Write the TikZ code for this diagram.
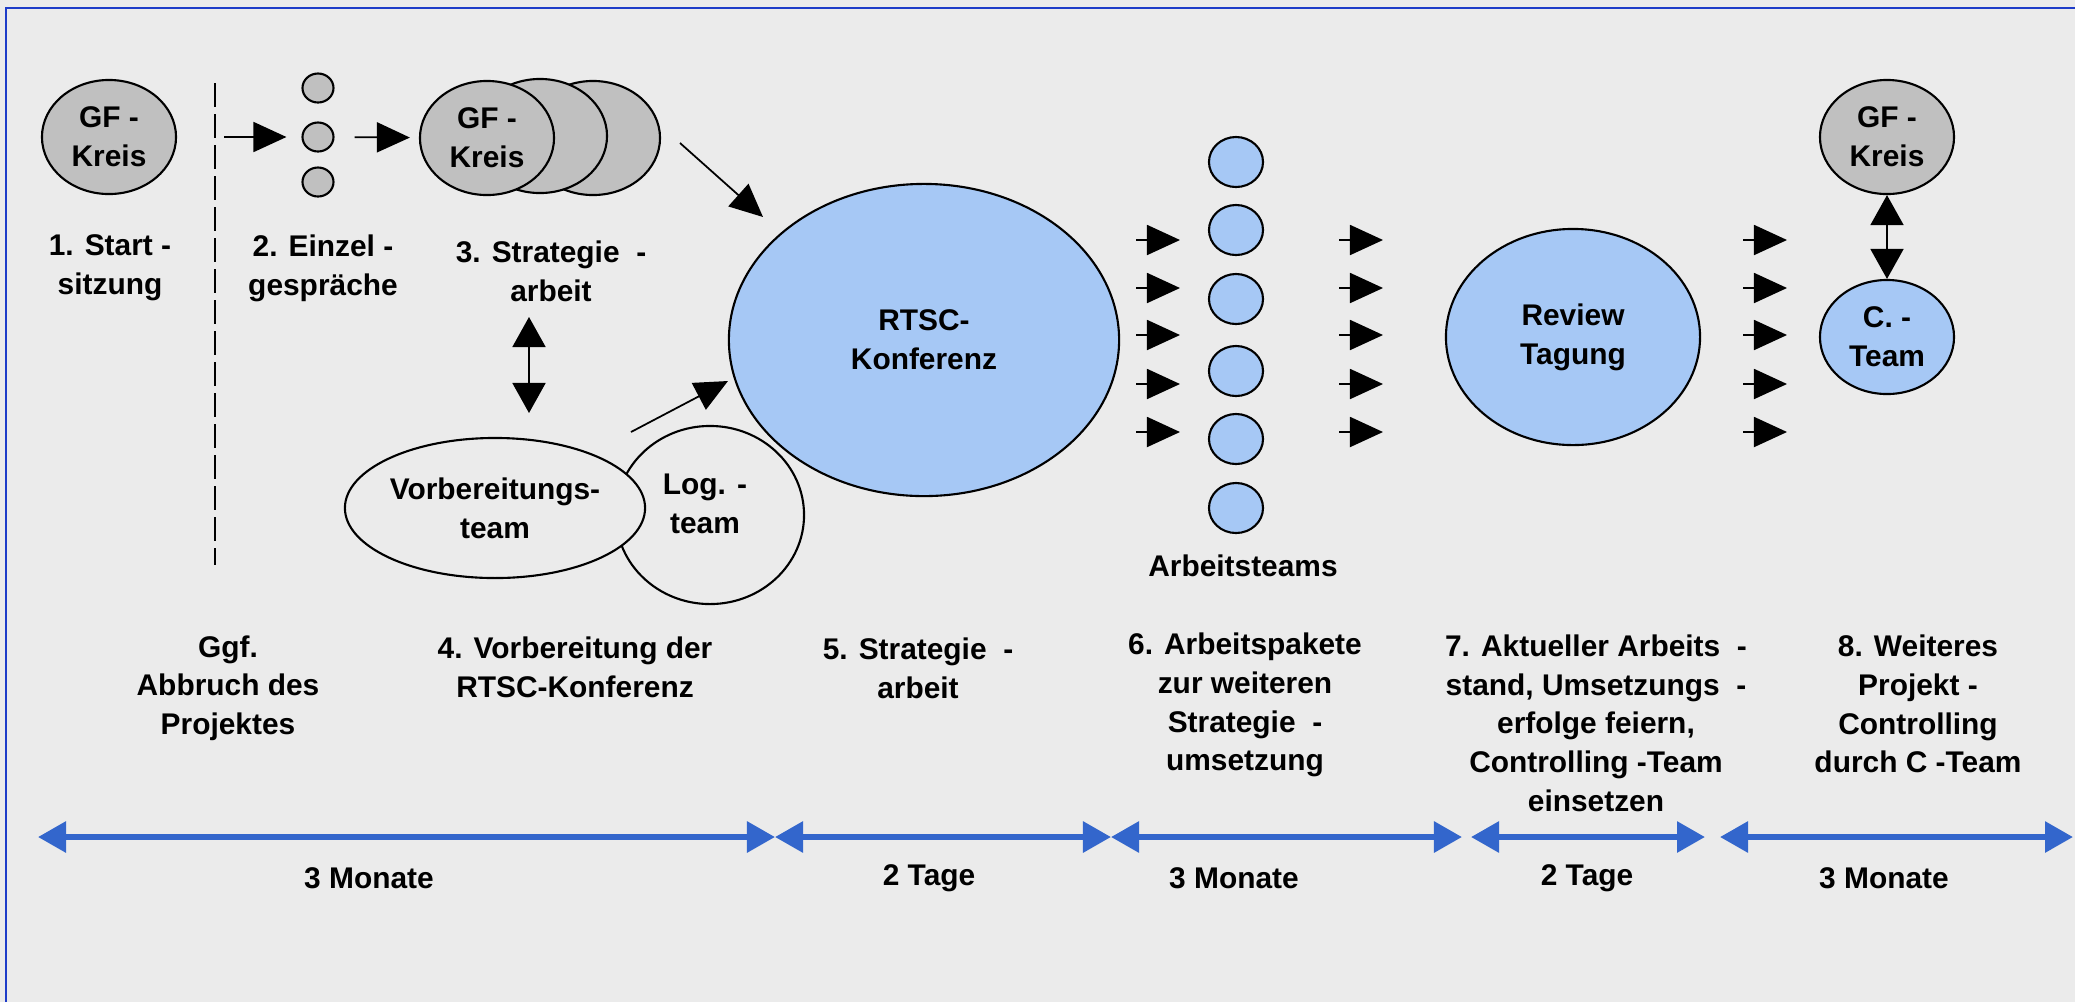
\documentclass[tikz,border=0pt]{standalone}
\usepackage{fontspec}
\setmainfont{Liberation Sans}
\usetikzlibrary{shapes.geometric,arrows.meta}
\definecolor{hintergrund}{HTML}{EBEBEB}
\definecolor{kreisgrau}{HTML}{C0C0C0}
\definecolor{teamblau}{HTML}{A6C8F5}
\definecolor{zeitblau}{HTML}{3366CC}
\definecolor{rahmenblau}{HTML}{1E3CC8}

\begin{document}
\begin{tikzpicture}[x=0.01cm,y=-0.01cm,
    every node/.style={font=\fontsize{8.5}{11}\selectfont\bfseries, align=center},
    kreis/.style={ellipse, draw, line width=0.6pt, inner sep=0pt},
    grau/.style={kreis, fill=kreisgrau},
    blau/.style={kreis, fill=teamblau},
    leer/.style={kreis, fill=hintergrund},
    pfeil/.style={-{Triangle[length=0.33cm,width=0.30cm]}, line width=0.5pt},
    doppelpfeil/.style={{Triangle[length=0.30cm,width=0.33cm]}-{Triangle[length=0.30cm,width=0.33cm]}, line width=0.5pt},
    zeit/.style={{Triangle[length=0.28cm,width=0.30cm]}-{Triangle[length=0.28cm,width=0.30cm]}, draw=zeitblau, line width=1.7pt}]
        \fill[hintergrund] (0,0) rectangle (2075,1002);
        \useasboundingbox (0,0) rectangle (2075,1002);
        \draw[rahmenblau, line width=0.8pt] (6,1002) -- (6,8) -- (2075,8);

        \node[grau, minimum width=1.34cm, minimum height=1.14cm] (gf1) at (109,137) {GF -\\Kreis};
        \coordinate (trennoben) at (215,83);
        \coordinate (trennunten) at (215,565);
        \draw[dash pattern=on 0.24cm off 0.07cm, line width=0.6pt] (trennoben) -- (trennunten);
        \foreach \y [count=\i] in {88,137,182}
            \node[grau, minimum width=0.31cm, minimum height=0.29cm] (dot\i) at (318,\y) {};
        \node[grau, minimum width=1.34cm, minimum height=1.14cm] (gf3c) at (593,138) {};
        \node[grau, minimum width=1.34cm, minimum height=1.14cm] (gf3b) at (540,136) {};
        \node[grau, minimum width=1.34cm, minimum height=1.14cm] (gf3a) at (487,138) {GF -\\Kreis};
        \draw[pfeil, shorten <=0.47cm, shorten >=0.15cm] (gf1) -- (dot2);
        \draw[pfeil, shorten <=0.20cm, shorten >=0.09cm] (dot2) -- (gf3a);

        \node (start) at (110,268) {1. Start -\\sitzung};
        \node (einzel) at (323,268) {2. Einzel -\\gespr\"ache};
        \node (strat) at (551,271) {3. Strategie ~-\\arbeit};

        \node[leer, minimum width=1.88cm, minimum height=1.78cm,
            label={[yshift=0.11cm, xshift=-0.05cm]center:Log. -\\team}] (log) at (710,515) {};
        \node[leer, minimum width=3.00cm, minimum height=1.40cm] (vorb) at (495,508) {Vorbereitungs-\\team};
        \coordinate (stratunten) at (529,317);
        \coordinate (vorboben) at (529,413);
        \draw[doppelpfeil] (stratunten) -- (vorboben);

        \node[blau, minimum width=3.90cm, minimum height=3.12cm] (rtsc) at (924,340) {RTSC-\\Konferenz};
        \coordinate (gfaus) at (680,143);
        \coordinate (rtscein) at (763,217);
        \draw[pfeil] (gfaus) -- (rtscein);
        \coordinate (logaus) at (631,432);
        \coordinate (rtscunten) at (728,381);
        \draw[pfeil] (logaus) -- (rtscunten);

        \foreach \y [count=\i] in {162,230,299,371,439,508}
            \node[blau, minimum width=0.54cm, minimum height=0.50cm] (team\i) at (1236,\y) {};
        \node (arbeitsteams) at (1243,566) {Arbeitsteams};

        \node[blau, minimum width=2.54cm, minimum height=2.16cm] (review) at (1573,337) {Review\\Tagung};
        \node[grau, minimum width=1.34cm, minimum height=1.14cm] (gf8) at (1887,137) {GF -\\Kreis};
        \node[blau, minimum width=1.34cm, minimum height=1.14cm] (cteam) at (1887,337) {C. -\\Team};
        \draw[doppelpfeil] (gf8.south) -- (cteam.north);

        \foreach \x in {1136,1339,1743}
            \foreach \y [count=\i] in {240,288,335,384,432} {
                \coordinate (a\x\i) at (\x,\y);
                \coordinate (b\x\i) at (\x+44,\y);
                \draw[pfeil] (a\x\i) -- (b\x\i);
            }

        \node (abbruch) at (228,688) {Ggf.\\Abbruch des\\Projektes};
        \node (vorbtext) at (575,667) {4. Vorbereitung der\\RTSC-Konferenz};
        \node (strat5) at (918,668) {5. Strategie ~-\\arbeit};
        \node (pakete) at (1245,705) {6. Arbeitspakete\\zur weiteren\\Strategie ~-\\umsetzung};
        \node (review7) at (1596,723) {7. Aktueller Arbeits ~-\\stand, Umsetzungs ~-\\erfolge feiern,\\Controlling -Team\\einsetzen};
        \node (weiter8) at (1918,704) {8. Weiteres\\Projekt -\\Controlling\\durch C -Team};

        \foreach \a/\b/\m/\t [count=\i] in {38/775/369/3 Monate, 775/1111/929/2 Tage, 1111/1462/1234/3 Monate, 1471/1705/1587/2 Tage, 1720/2073/1884/3 Monate} {
            \coordinate (za\i) at (\a,837);
            \coordinate (zb\i) at (\b,837);
            \draw[zeit] (za\i) -- (zb\i);
            \node (dauer\i) at (\m,878) {\t};
        }
    \end{tikzpicture}
\end{document}
